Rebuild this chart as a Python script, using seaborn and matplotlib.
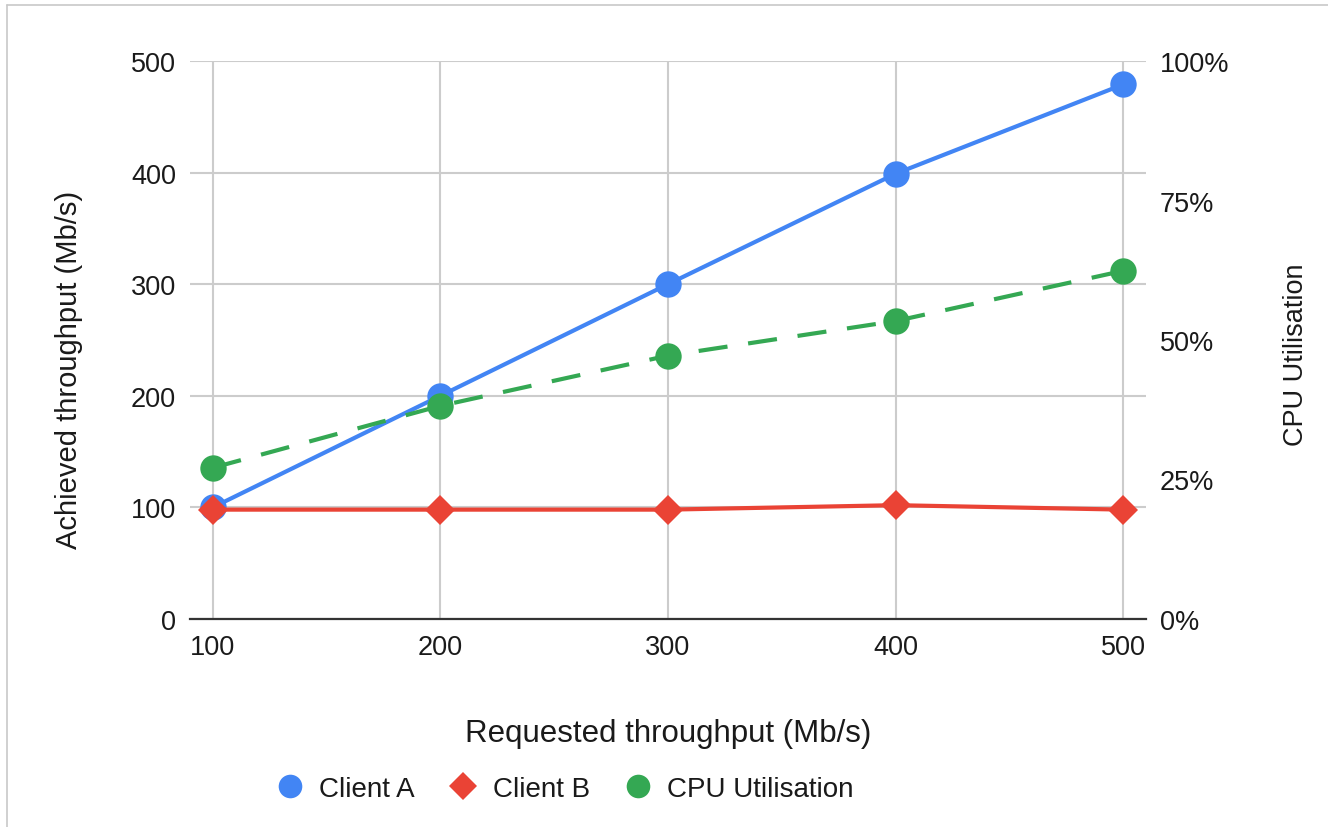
import matplotlib
matplotlib.use("Agg")
import matplotlib.pyplot as plt
from matplotlib.lines import Line2D
from matplotlib.ticker import PercentFormatter
import seaborn as sns

# Measurements
requested = [100, 200, 300, 400, 500]
client_a = [100, 200, 300, 399, 479]
client_b = [98, 98, 98, 102, 98]
cpu_util = [27.1, 38.2, 47.2, 53.4, 62.4]

left_ticks = [0, 100, 200, 300, 400, 500]
right_ticks = [0, 25, 50, 75, 100]

BLUE = "#4285F4"
RED = "#EA4335"
GREEN = "#34A853"
GRID = "#cccccc"
TEXT = "#1a1a1a"

sns.set_theme(style="whitegrid")
plt.rcParams["font.family"] = ["Liberation Sans", "DejaVu Sans"]

fig = plt.figure(figsize=(13.28, 8.28), dpi=100)
ax = fig.add_axes([190 / 1328, 1 - 620 / 828, 956 / 1328, 558 / 828])

sns.lineplot(x=requested, y=client_a, ax=ax, color=BLUE, linewidth=3,
             marker="o", markersize=19, markeredgewidth=0, zorder=3)
sns.lineplot(x=requested, y=client_b, ax=ax, color=RED, linewidth=3,
             marker="D", markersize=15, markeredgewidth=0, zorder=4)

ax.set_xlim(90, 510)
ax.set_ylim(0, 500)
ax.set_xticks(requested)
ax.set_yticks(left_ticks)
ax.grid(True, color=GRID, linewidth=1.5)
for side in ["left", "right", "top"]:
    ax.spines[side].set_visible(False)
ax.spines["bottom"].set_visible(True)
ax.spines["bottom"].set_color("#333333")
ax.spines["bottom"].set_linewidth(1.6)
ax.tick_params(axis="both", length=0, labelsize=19.5, colors=TEXT)
ax.tick_params(axis="x", pad=11)
ax.tick_params(axis="y", pad=10)
ax.set_xlabel("Requested throughput (Mb/s)", fontsize=22.5, color=TEXT)
ax.set_ylabel("Achieved throughput (Mb/s)", fontsize=21, color=TEXT)
ax.xaxis.set_label_coords(0.5, -0.177)
ax.yaxis.set_label_coords(-0.112, 0.448)

ax2 = ax.twinx()
sns.lineplot(x=requested, y=cpu_util, ax=ax2, color=GREEN, linewidth=3,
             linestyle=(0, (7, 5)), marker="o", markersize=19,
             markeredgewidth=0, zorder=3)
ax2.set_ylim(0, 100)
ax2.set_yticks(right_ticks)
ax2.yaxis.set_major_formatter(PercentFormatter(decimals=0))
ax2.grid(False)
for side in ["left", "right", "top", "bottom"]:
    ax2.spines[side].set_visible(False)
ax2.tick_params(axis="y", length=0, labelsize=19.5, colors=TEXT, pad=10)
ax2.set_ylabel("CPU Utilisation", fontsize=19.5, color=TEXT)
ax2.yaxis.set_label_coords(1.143, 0.475)

handles = [
    Line2D([], [], linestyle="none", marker="o", markersize=17, markeredgewidth=0, color=BLUE),
    Line2D([], [], linestyle="none", marker="D", markersize=14, markeredgewidth=0, color=RED),
    Line2D([], [], linestyle="none", marker="o", markersize=17, markeredgewidth=0, color=GREEN),
]
fig.legend(handles, ["Client A", "Client B", "CPU Utilisation"],
           loc="center", bbox_to_anchor=(565 / 1328, 1 - 790 / 828), ncol=3,
           frameon=False, fontsize=20, handlelength=1.0, handletextpad=0.55,
           columnspacing=1.25, labelcolor=TEXT)

# Thin frame on the top and left edges
fig.add_artist(Line2D([7 / 1328, 1.0], [1 - 6 / 828, 1 - 6 / 828],
                      transform=fig.transFigure, color="#c8c8c8", linewidth=1.2))
fig.add_artist(Line2D([7 / 1328, 7 / 1328], [0.0, 1 - 6 / 828],
                      transform=fig.transFigure, color="#c8c8c8", linewidth=1.2))

fig.savefig("out.png", dpi=100, facecolor="white")
